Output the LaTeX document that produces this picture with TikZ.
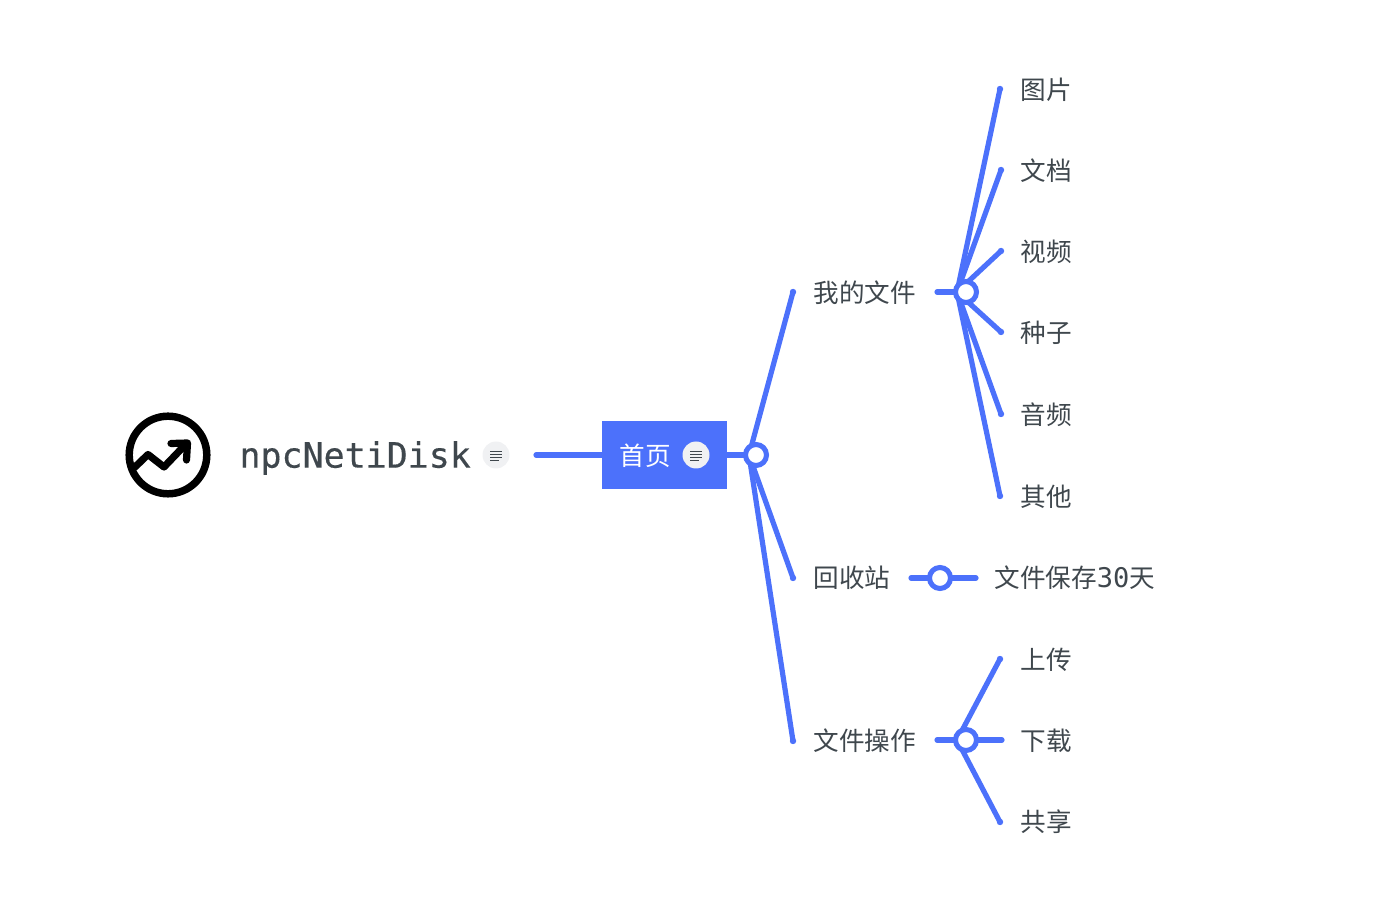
\documentclass[tikz,border=0pt]{standalone}
\usepackage{fontspec}
\setmainfont{Noto Sans CJK SC}
\newfontfamily\monof{DejaVu Sans Mono}
\newfontfamily\monobold[FakeBold=0.35]{DejaVu Sans Mono}
\definecolor{mapblue}{HTML}{4C71FB}
\definecolor{inkgrey}{HTML}{3F474D}
\definecolor{notegrey}{HTML}{F0F1F3}
\tikzset{
  link/.style={draw=mapblue,line width=3.9pt,line cap=round},
  enddot/.style={fill=mapblue},
  junction/.style={circle,draw=mapblue,fill=white,line width=3.8pt,minimum size=15.75pt,inner sep=0pt,outer sep=0pt},
  label/.style={anchor=west,inner sep=0pt,outer sep=0pt,text=inkgrey,font=\fontsize{19.2}{22}\selectfont},
  notebadge/.style={circle,fill=notegrey,minimum size=20.25pt,inner sep=0pt,outer sep=0pt},
  noteline/.style={draw=inkgrey,line width=0.6pt},
}
\begin{document}
\begin{tikzpicture}[x=0.75pt,y=-0.75pt]
\useasboundingbox (0,0) rectangle (1396,912);
% free ends
\coordinate (rootend) at (536,455);
\coordinate (e1) at (793,292);
\coordinate (e2) at (793,578);
\coordinate (e3) at (793,741);
\coordinate (s1) at (937,292);
\coordinate (s2) at (911,578);
\coordinate (s2b) at (976,578);
\coordinate (s3) at (937,740);
\coordinate (a1) at (1000,89);
\coordinate (a2) at (1001,170);
\coordinate (a3) at (1001,251);
\coordinate (a4) at (1001,332);
\coordinate (a5) at (1001,414);
\coordinate (a6) at (1000,496);
\coordinate (b1) at (1000,659);
\coordinate (b2) at (1002,740);
\coordinate (b3) at (1000,822);
% fan origins
\coordinate (o0) at (749,455);
\coordinate (o1) at (957,292);
\coordinate (o3) at (957,740);
% home box position
\path node[minimum width=93.75pt,minimum height=51pt,inner sep=0pt,outer sep=0pt] (home) at (664.5,455) {};
% connectors
\draw[link] (rootend) -- (home.west);
\draw[link] (home.east) -- (o0);
\foreach \e in {e1,e2,e3} {\draw[link] (o0) -- (\e); \fill[enddot] (\e) circle (3.2);}
\draw[link] (s1) -- (o1);
\foreach \e in {a1,a2,a3,a4,a5,a6} {\draw[link] (o1) -- (\e); \fill[enddot] (\e) circle (3.2);}
\draw[link] (s2) -- (s2b);
\draw[link] (s3) -- (b2);
\foreach \e in {b1,b3} {\draw[link] (o3) -- (\e); \fill[enddot] (\e) circle (3.2);}
% visible shapes
\node[fill=mapblue,minimum width=93.75pt,minimum height=51pt,inner sep=0pt,outer sep=0pt] (homebox) at (664.5,455) {};
\node[junction] (j0v) at (756,455) {};
\node[junction] (j1v) at (966,292) {};
\node[junction] (j2v) at (940,578) {};
\node[junction] (j3v) at (966,740) {};
% logo
\node[circle,draw=black,line width=5.6pt,minimum size=58.2pt,inner sep=0pt] (logo) at (168,455) {};
\draw[black,line width=5.4pt,line cap=round,line join=round] (135,467) -- (148,454.5) -- (164,467) -- (186,444);
\draw[black,line width=5.4pt,line cap=round,line join=round] (171,443.5) -- (187.5,443) -- (186.5,460);
% texts
\node[anchor=west,inner sep=0pt,outer sep=0pt,text=inkgrey,font=\monobold\fontsize{26.2}{30}\selectfont] (root) at (239.5,458) {npcNetiDisk};
\node[label,text=white] (hometext) at (619.5,455.5) {首页};
\node[label] (t1) at (813.5,292.5) {我的文件};
\node[label] (t2) at (813.5,578) {回收站};
\node[label] (t3) at (813.5,741) {文件操作};
\node[label] (n1) at (1020.5,90) {图片};
\node[label] (n2) at (1020.5,171) {文档};
\node[label] (n3) at (1020.5,252) {视频};
\node[label] (n4) at (1020.5,333) {种子};
\node[label] (n5) at (1020.5,415) {音频};
\node[label] (n6) at (1020.5,497) {其他};
\node[label] (k1) at (994.5,578) {文件保存{\monof\fontsize{20.3}{22}\selectfont 30}天};
\node[label] (m1) at (1020.5,660) {上传};
\node[label] (m2) at (1020.5,741) {下载};
\node[label] (m3) at (1020.5,822) {共享};
% note badges
\foreach \nm/\cx in {noteA/496,noteB/696}{
  \node[notebadge] (\nm) at (\cx,455) {};
  \draw[noteline] (\cx-6,451) -- (\cx+6,451);
  \draw[noteline] (\cx-6,454) -- (\cx+6,454);
  \draw[noteline] (\cx-6,457) -- (\cx+6,457);
  \draw[noteline] (\cx-6,460) -- (\cx+2.5,460);
}
\end{tikzpicture}
\end{document}
